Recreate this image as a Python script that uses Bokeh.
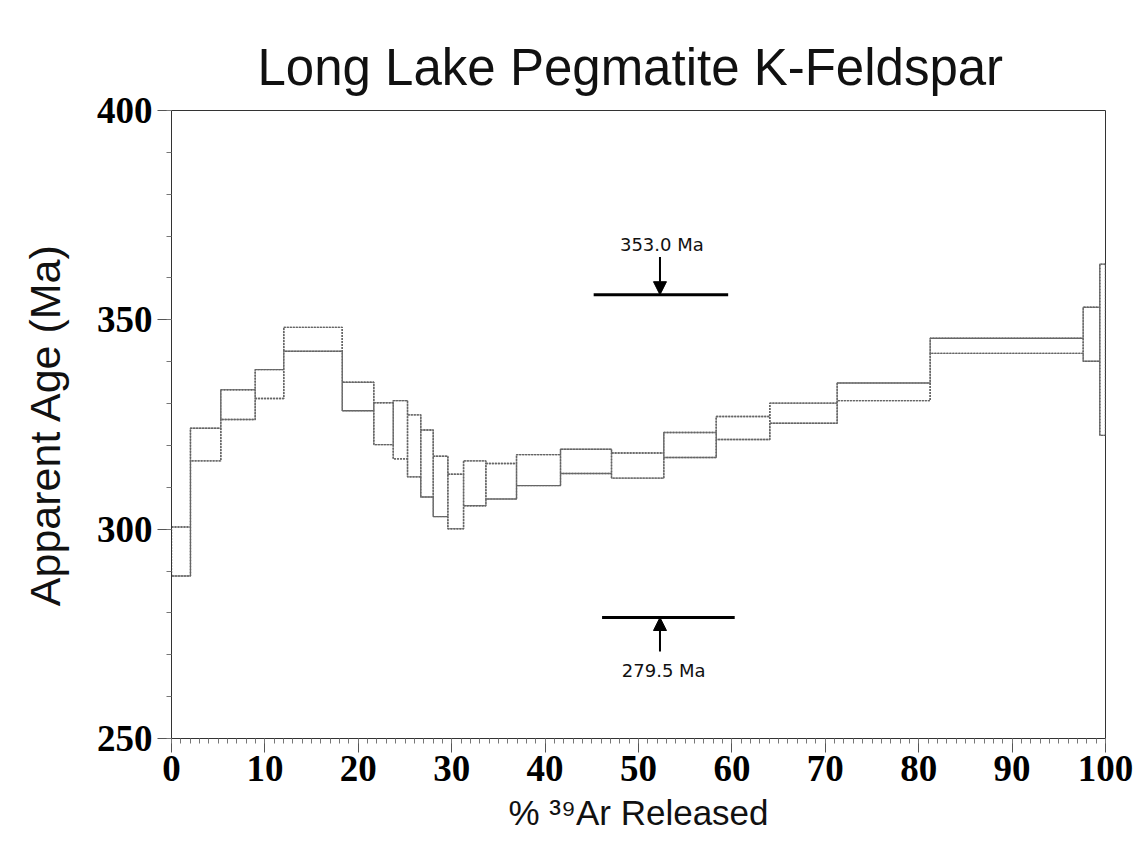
from bokeh.plotting import figure
from bokeh.models import Range1d, Arrow, NormalHead, FixedTicker, ColumnDataSource
from bokeh.core.properties import value
from bokeh.embed import file_html
from bokeh.resources import INLINE

# --- data: step heating spectrum (cumulative % 39Ar released and age envelope) ---
cum_pct_39ar = [0, 2.03, 5.28, 8.96, 12.02, 18.28, 21.66, 23.74, 25.27, 26.69, 28.02,
                29.59, 31.27, 33.66, 36.94, 41.65, 47.11, 52.71, 58.32, 64.06, 71.27,
                81.23, 97.61, 99.39, 100.0]
age_upper = [300.5, 324.1, 333.3, 338.1, 348.2, 335.1, 330.2, 330.7, 327.3, 323.7, 317.4,
             313.1, 316.3, 315.7, 317.8, 319.1, 318.2, 323.1, 326.9, 330.1, 334.9,
             345.6, 353.0, 363.3]
age_lower = [288.8, 316.3, 326.2, 331.2, 342.5, 328.3, 320.2, 316.8, 312.5, 307.7, 303.0,
             300.1, 305.6, 307.2, 310.4, 313.3, 312.2, 317.1, 321.4, 325.3, 330.7,
             342.0, 340.1, 322.4]

# reference-age markers
marker_labels = ["353.0 Ma", "279.5 Ma"]
marker_age = [356.0, 278.9]
marker_x0 = [45.2, 46.1]
marker_x1 = [59.6, 60.3]
marker_arrow_x = [52.3, 52.3]
marker_arrow_tail = [365.0, 270.8]
marker_text_x = [52.5, 52.7]
marker_text_y = [368.0, 266.3]

x_ticks = [0, 10, 20, 30, 40, 50, 60, 70, 80, 90, 100]
y_ticks = [250, 300, 350, 400]

W, H = 1137, 847
p = figure(width=W, height=H, output_backend="svg", toolbar_location=None,
           x_range=Range1d(0, 100), y_range=Range1d(250, 400),
           min_border_left=171, min_border_right=32, min_border_top=110, min_border_bottom=109)

p.xgrid.visible = False
p.ygrid.visible = False
p.outline_line_color = "#333333"
p.outline_line_width = 1
p.background_fill_color = "white"
p.border_fill_color = "white"

# title
p.title.text = "Long Lake Pegmatite K-Feldspar"
p.title.align = "left"
p.title.offset = 86
p.title.text_font = "Liberation Sans"
p.title.text_font_style = "normal"
p.title.text_font_size = "51px"
p.title.text_color = "#111111"
p.title.standoff = 29

# axes
for ax in (p.xaxis[0], p.yaxis[0]):
    ax.major_label_text_font = "Liberation Serif"
    ax.major_label_text_font_style = "bold"
    ax.major_label_text_font_size = "37px"
    ax.major_label_text_color = "black"
    ax.axis_label_text_font = "Liberation Sans"
    ax.axis_label_text_font_style = "normal"
    ax.axis_label_text_color = "#111111"
    ax.major_tick_out = 14
    ax.major_tick_in = 0
    ax.minor_tick_out = 5
    ax.minor_tick_in = 0
    ax.axis_line_color = "#333333"
    ax.major_tick_line_color = "#555555"
    ax.minor_tick_line_color = "#777777"

p.xaxis.axis_label_text_font_size = "35px"
p.yaxis.axis_label_text_font_size = "43px"
p.xaxis.ticker = FixedTicker(ticks=x_ticks, minor_ticks=list(range(0, 101)))
p.yaxis.ticker = FixedTicker(ticks=y_ticks, minor_ticks=list(range(250, 401, 10)))
p.xaxis.axis_label = "% \u00b3\u2079Ar Released"
p.yaxis.axis_label = "Apparent Age (Ma)"
p.xaxis.major_label_standoff = 3
p.yaxis.major_label_standoff = 5
p.xaxis.axis_label_standoff = 9
p.yaxis.axis_label_standoff = 25

# step boxes plus upper / lower envelopes
line_kw = dict(line_color="#666666", line_width=1.4, line_dash="2 1")
src = ColumnDataSource(dict(left=cum_pct_39ar[:-1], right=cum_pct_39ar[1:],
                            top=age_upper, bottom=age_lower))
p.quad(left="left", right="right", top="top", bottom="bottom", source=src,
       fill_color=None, **line_kw)
p.step(x=cum_pct_39ar, y=age_upper + [age_upper[-1]], mode="after", **line_kw)
p.step(x=cum_pct_39ar, y=age_lower + [age_lower[-1]], mode="after", **line_kw)

# marker bars
p.segment(x0=marker_x0, x1=marker_x1, y0=marker_age, y1=marker_age,
          line_color="black", line_width=3)
for xa, ytail, ytip in zip(marker_arrow_x, marker_arrow_tail, marker_age):
    p.add_layout(Arrow(end=NormalHead(size=13, fill_color="black", line_color="black"),
                       x_start=xa, y_start=ytail, x_end=xa, y_end=ytip,
                       line_color="black", line_width=2))
p.text(x=marker_text_x, y=marker_text_y, text=marker_labels,
       text_font=value("DejaVu Sans"), text_font_size="18px", text_color="#111111",
       text_align="center", text_baseline="middle")

open("out.html", "w").write(file_html(p, INLINE))
